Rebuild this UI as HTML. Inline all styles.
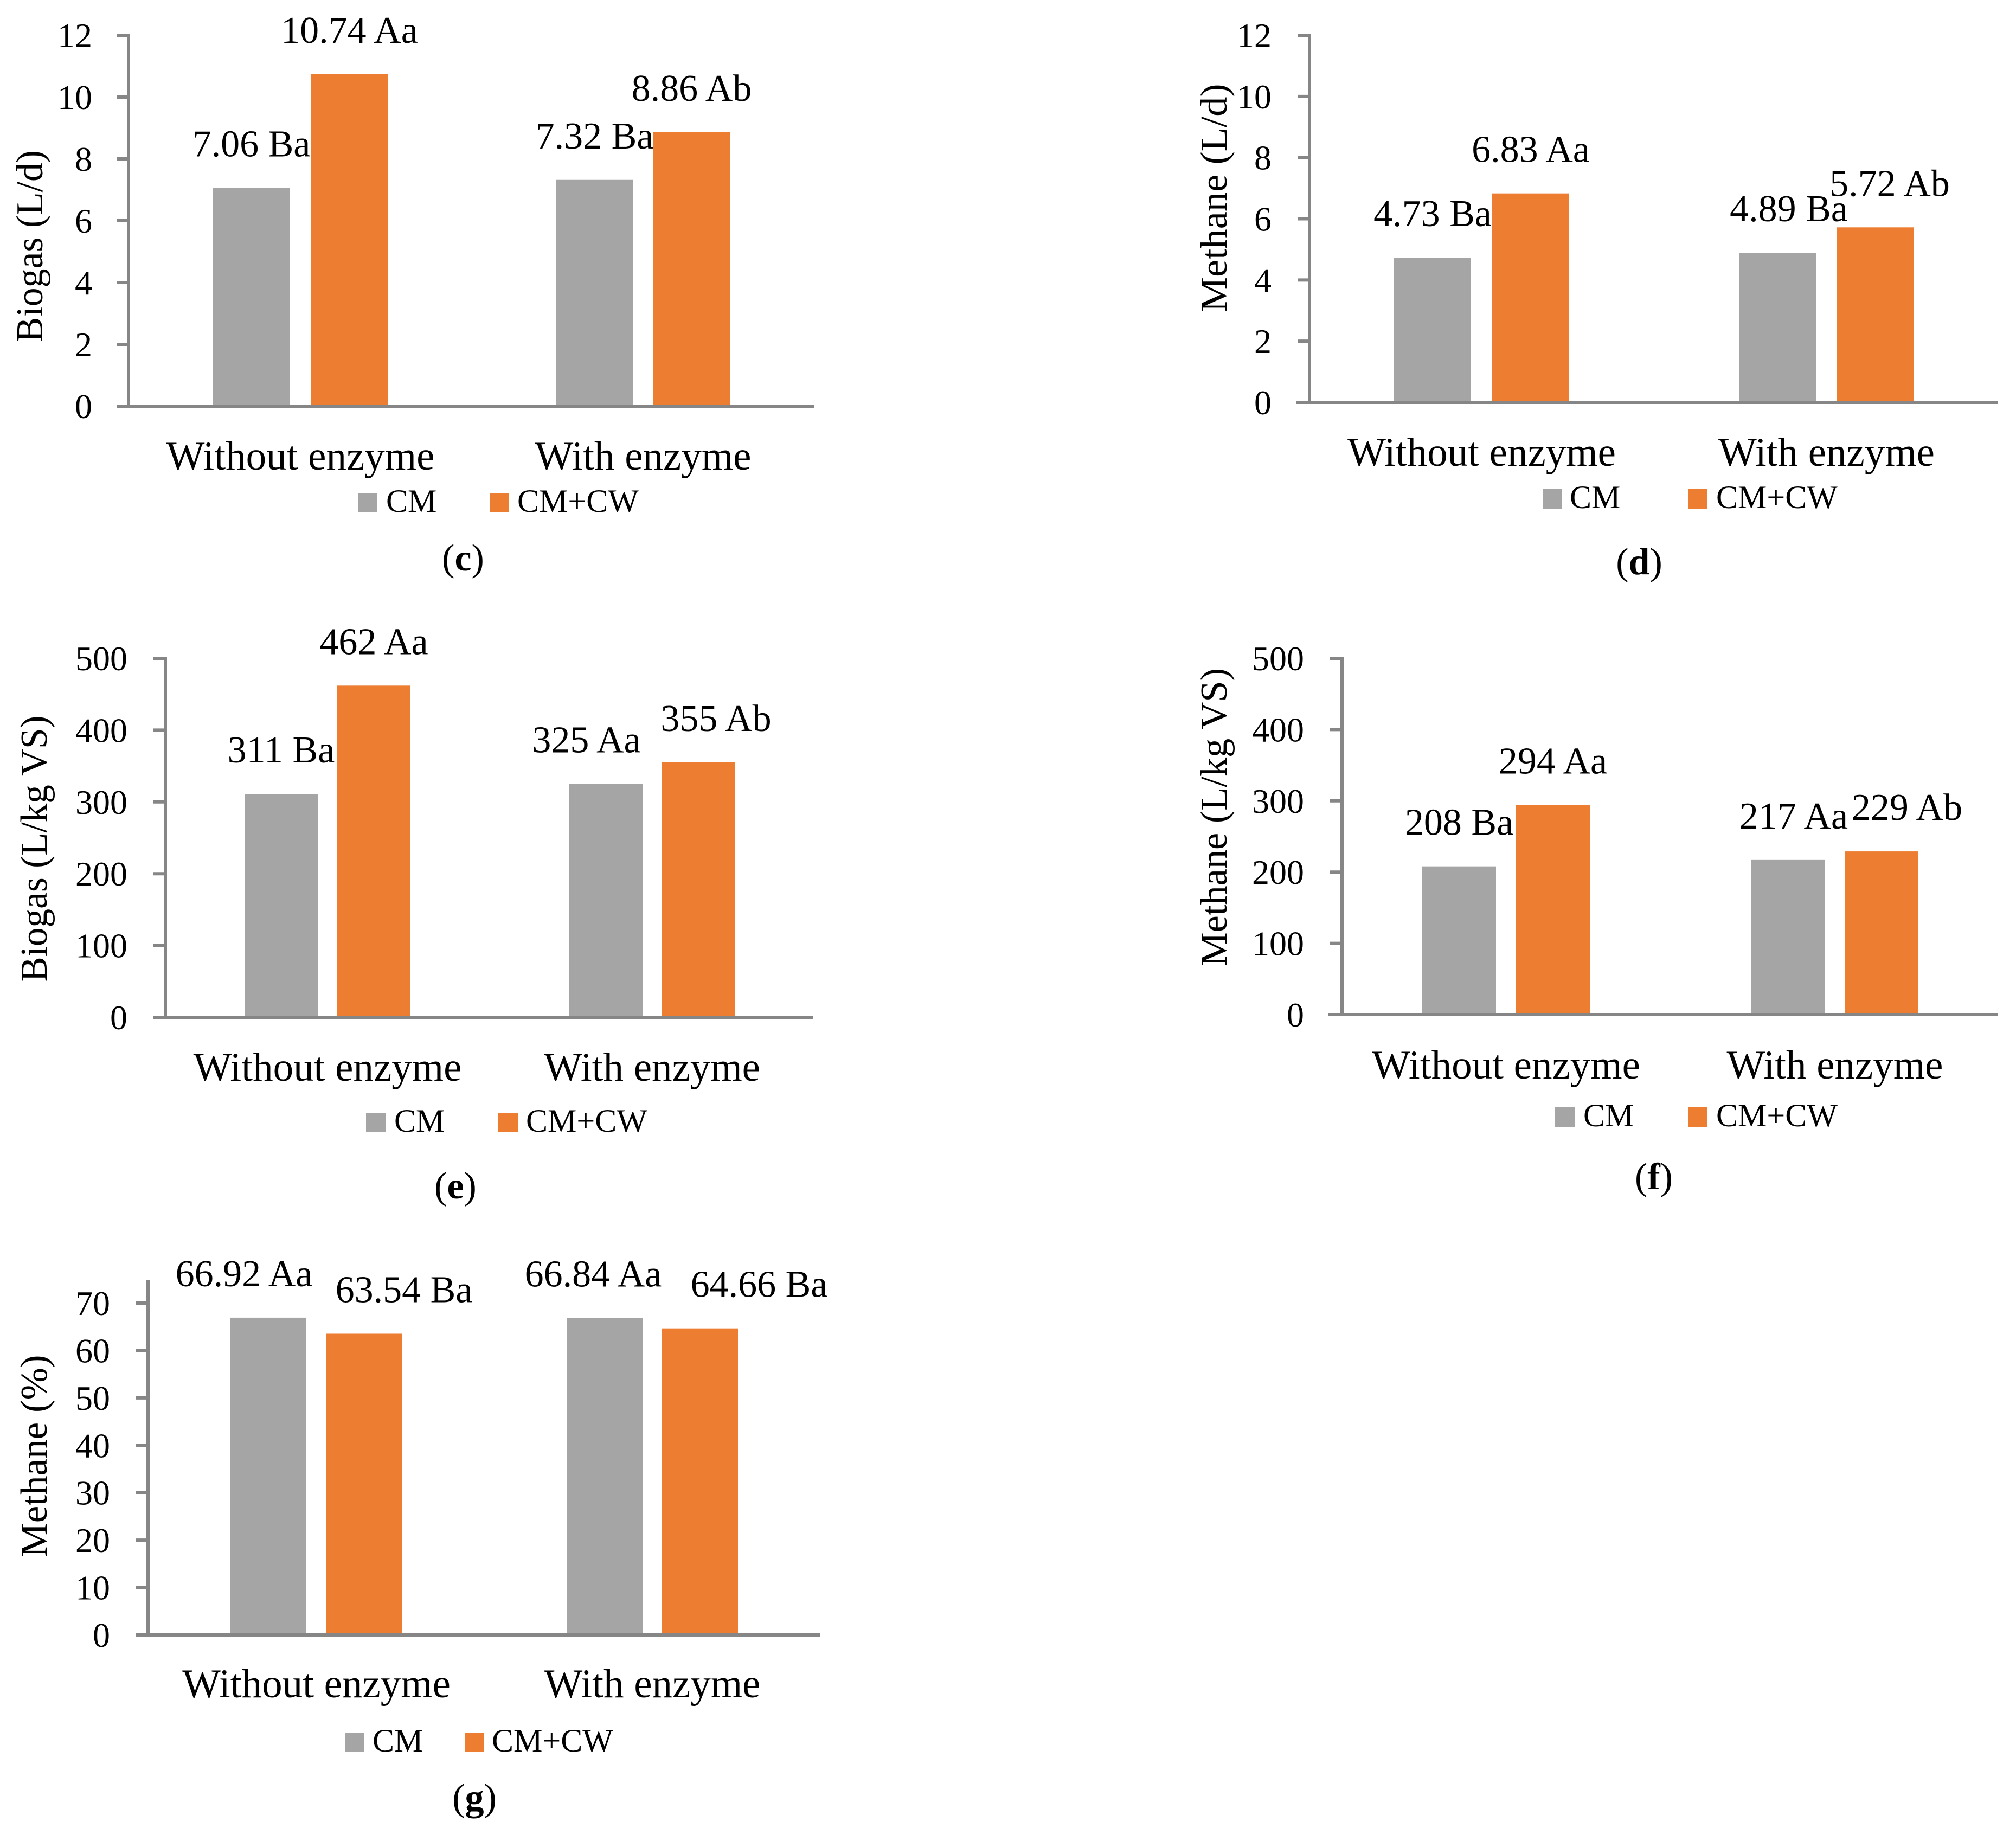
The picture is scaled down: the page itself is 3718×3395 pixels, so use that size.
<!DOCTYPE html>
<html><head><meta charset="utf-8"><style>
html,body{margin:0;padding:0;background:#fff;}
svg{display:block;font-family:"Liberation Serif",serif;}
</style></head><body>
<svg id="fig" width="3718" height="3395" viewBox="0 0 3718 3395" xmlns="http://www.w3.org/2000/svg"></svg>
<script>
const categories = ["Without enzyme", "With enzyme"];
const seriesNames = ["CM", "CM+CW"];
const cValsCM = [7.06, 7.32];
const cValsCW = [10.74, 8.86];
const cLabels = ["7.06 Ba", "7.32 Ba", "10.74 Aa", "8.86 Ab"];
const cTicks = [0, 2, 4, 6, 8, 10, 12];
const dValsCM = [4.73, 4.89];
const dValsCW = [6.83, 5.72];
const dLabels = ["4.73 Ba", "4.89 Ba", "6.83 Aa", "5.72 Ab"];
const dTicks = [0, 2, 4, 6, 8, 10, 12];
const eValsCM = [311, 325];
const eValsCW = [462, 355];
const eLabels = ["311 Ba", "325 Aa", "462 Aa", "355 Ab"];
const eTicks = [0, 100, 200, 300, 400, 500];
const fValsCM = [208, 217];
const fValsCW = [294, 229];
const fLabels = ["208 Ba", "217 Aa", "294 Aa", "229 Ab"];
const fTicks = [0, 100, 200, 300, 400, 500];
const gValsCM = [66.92, 66.84];
const gValsCW = [63.54, 64.66];
const gLabels = ["66.92 Aa", "66.84 Aa", "63.54 Ba", "64.66 Ba"];
const gTicks = [0, 10, 20, 30, 40, 50, 60, 70];

const NS = "http://www.w3.org/2000/svg";
const svg = document.getElementById("fig");
const GRAY = "#a5a5a5", ORANGE = "#ed7d31", AXIS = "#868686";
function mk(tag, attrs, parent, text) {
  const e = document.createElementNS(NS, tag);
  for (const k in attrs) e.setAttribute(k, attrs[k]);
  if (text !== undefined) e.textContent = text;
  (parent || svg).appendChild(e);
  return e;
}

function chart(o) {
  const g = mk("g", {});
  
  
  const maxT = o.ticks[o.ticks.length - 1];
  const yS = v => o.y0 - (v / maxT) * (o.y0 - o.yMax);
  const vals = [o.cm, o.cw];
  for (let s = 0; s < 2; s++) {
    for (let i = 0; i < categories.length; i++) {
      const x = o.barX[s][i];
      const top = yS(vals[s][i]);
      const r = mk("rect", {x: x, y: top, width: o.bw, height: o.y0 - top, fill: s ? ORANGE : GRAY}, g);
      
      
      const t = mk("text", {x: x + o.bw / 2 + o.dx[s * 2 + i], y: top - 58, "text-anchor": "middle", "font-size": 70, fill: "#000"}, g, o.labels[s * 2 + i]);
      
      
    }
  }
  const ya = mk("line", {x1: o.ax, y1: o.axTop, x2: o.ax, y2: o.y0 + 3, stroke: AXIS, "stroke-width": 6}, g);
  
  
  const xa = mk("line", {x1: o.xs, y1: o.y0, x2: o.xe, y2: o.y0, stroke: AXIS, "stroke-width": 6}, g);
  
  
  for (const t of o.ticks) {
    const y = yS(t);
    mk("line", {x1: o.ax - 22, y1: y, x2: o.ax, y2: y, stroke: AXIS, "stroke-width": 6}, g);
    const tl = mk("text", {x: o.tickR, y: y + 22, "text-anchor": "end", "font-size": 64, fill: "#000"}, g, String(t));
    
    
  }
  for (let i = 0; i < categories.length; i++) {
    const cx = (o.barX[0][i] + o.barX[1][i] + o.bw) / 2;
    const c = mk("text", {x: cx, y: o.catY, "text-anchor": "middle", "font-size": 75, fill: "#000"}, g, categories[i]);
    
    
  }
  const yt = mk("text", {x: 0, y: 0, "text-anchor": "middle", "font-size": 70, fill: "#000", textLength: o.ytLen, lengthAdjust: "spacingAndGlyphs", transform: "translate(" + (o.ytX + 24) + "," + o.ytY + ") rotate(-90)"}, g, o.ytitle);
  
  
  const lg = mk("g", {}, g);
  
  
  mk("rect", {x: o.lg[0], y: o.lgY, width: 36, height: 36, fill: GRAY}, lg);
  mk("text", {x: o.lg[1], y: o.lgY + 35, "font-size": 60, fill: "#000"}, lg, seriesNames[0]);
  mk("rect", {x: o.lg[2], y: o.lgY, width: 36, height: 36, fill: ORANGE}, lg);
  mk("text", {x: o.lg[3], y: o.lgY + 35, "font-size": 60, fill: "#000"}, lg, seriesNames[1]);
  const cap = mk("text", {x: o.capX, y: o.capY, "text-anchor": "middle", "font-size": 70, fill: "#000"}, g);
  
  
  mk("tspan", {}, cap, "(");
  mk("tspan", {"font-weight": "bold"}, cap, o.id);
  mk("tspan", {}, cap, ")");
}

chart({id: "c", cm: cValsCM, cw: cValsCW, labels: cLabels, ticks: cTicks, dx: [0, 0, 0, 0],
  ax: 237, axTop: 62, yMax: 65, y0: 749, xs: 215, xe: 1501, bw: 141,
  barX: [[393, 1026], [574, 1205]], tickR: 170, catY: 866,
  ytitle: "Biogas (L/d)", ytX: 54, ytY: 454, ytLen: 354,
  lg: [660, 712, 903, 954], lgY: 909, capX: 854, capY: 1052});
chart({id: "d", cm: dValsCM, cw: dValsCW, labels: dLabels, ticks: dTicks, dx: [0, 21, 0, 26],
  ax: 2415, axTop: 62, yMax: 65, y0: 742, xs: 2390, xe: 3685, bw: 142,
  barX: [[2571, 3207], [2752, 3388]], tickR: 2345, catY: 859,
  ytitle: "Methane (L/d)", ytX: 2238, ytY: 365, ytLen: 421,
  lg: [2845, 2895, 3113, 3165], lgY: 902, capX: 3023, capY: 1059});
chart({id: "e", cm: eValsCM, cw: eValsCW, labels: eLabels, ticks: eTicks, dx: [0, -36, 0, 33],
  ax: 305, axTop: 1211, yMax: 1214, y0: 1876, xs: 282, xe: 1500, bw: 135,
  barX: [[451, 1050], [622, 1220]], tickR: 235, catY: 1993,
  ytitle: "Biogas (L/kg VS)", ytX: 62, ytY: 1565, ytLen: 491,
  lg: [675, 727, 919, 970], lgY: 2052, capX: 840, capY: 2210});
chart({id: "f", cm: fValsCM, cw: fValsCW, labels: fLabels, ticks: fTicks, dx: [0, 10, 0, 47],
  ax: 2475, axTop: 1211, yMax: 1214, y0: 1871, xs: 2450, xe: 3685, bw: 136,
  barX: [[2623, 3230], [2796, 3402]], tickR: 2405, catY: 1989,
  ytitle: "Methane (L/kg VS)", ytX: 2238, ytY: 1507, ytLen: 550,
  lg: [2868, 2920, 3113, 3165], lgY: 2042, capX: 3050, capY: 2193});
chart({id: "g", cm: gValsCM, cw: gValsCW, labels: gLabels, ticks: gTicks, dx: [-45, -21, 73, 109],
  ax: 273, axTop: 2361, yMax: 2403, y0: 3015, xs: 250, xe: 1512, bw: 140,
  barX: [[425, 1045], [602, 1221]], tickR: 203, catY: 3130,
  ytitle: "Methane (%)", ytX: 62, ytY: 2685, ytLen: 373,
  lg: [636, 687, 857, 907], lgY: 3195, capX: 875, capY: 3338});
</script>
</body></html>
